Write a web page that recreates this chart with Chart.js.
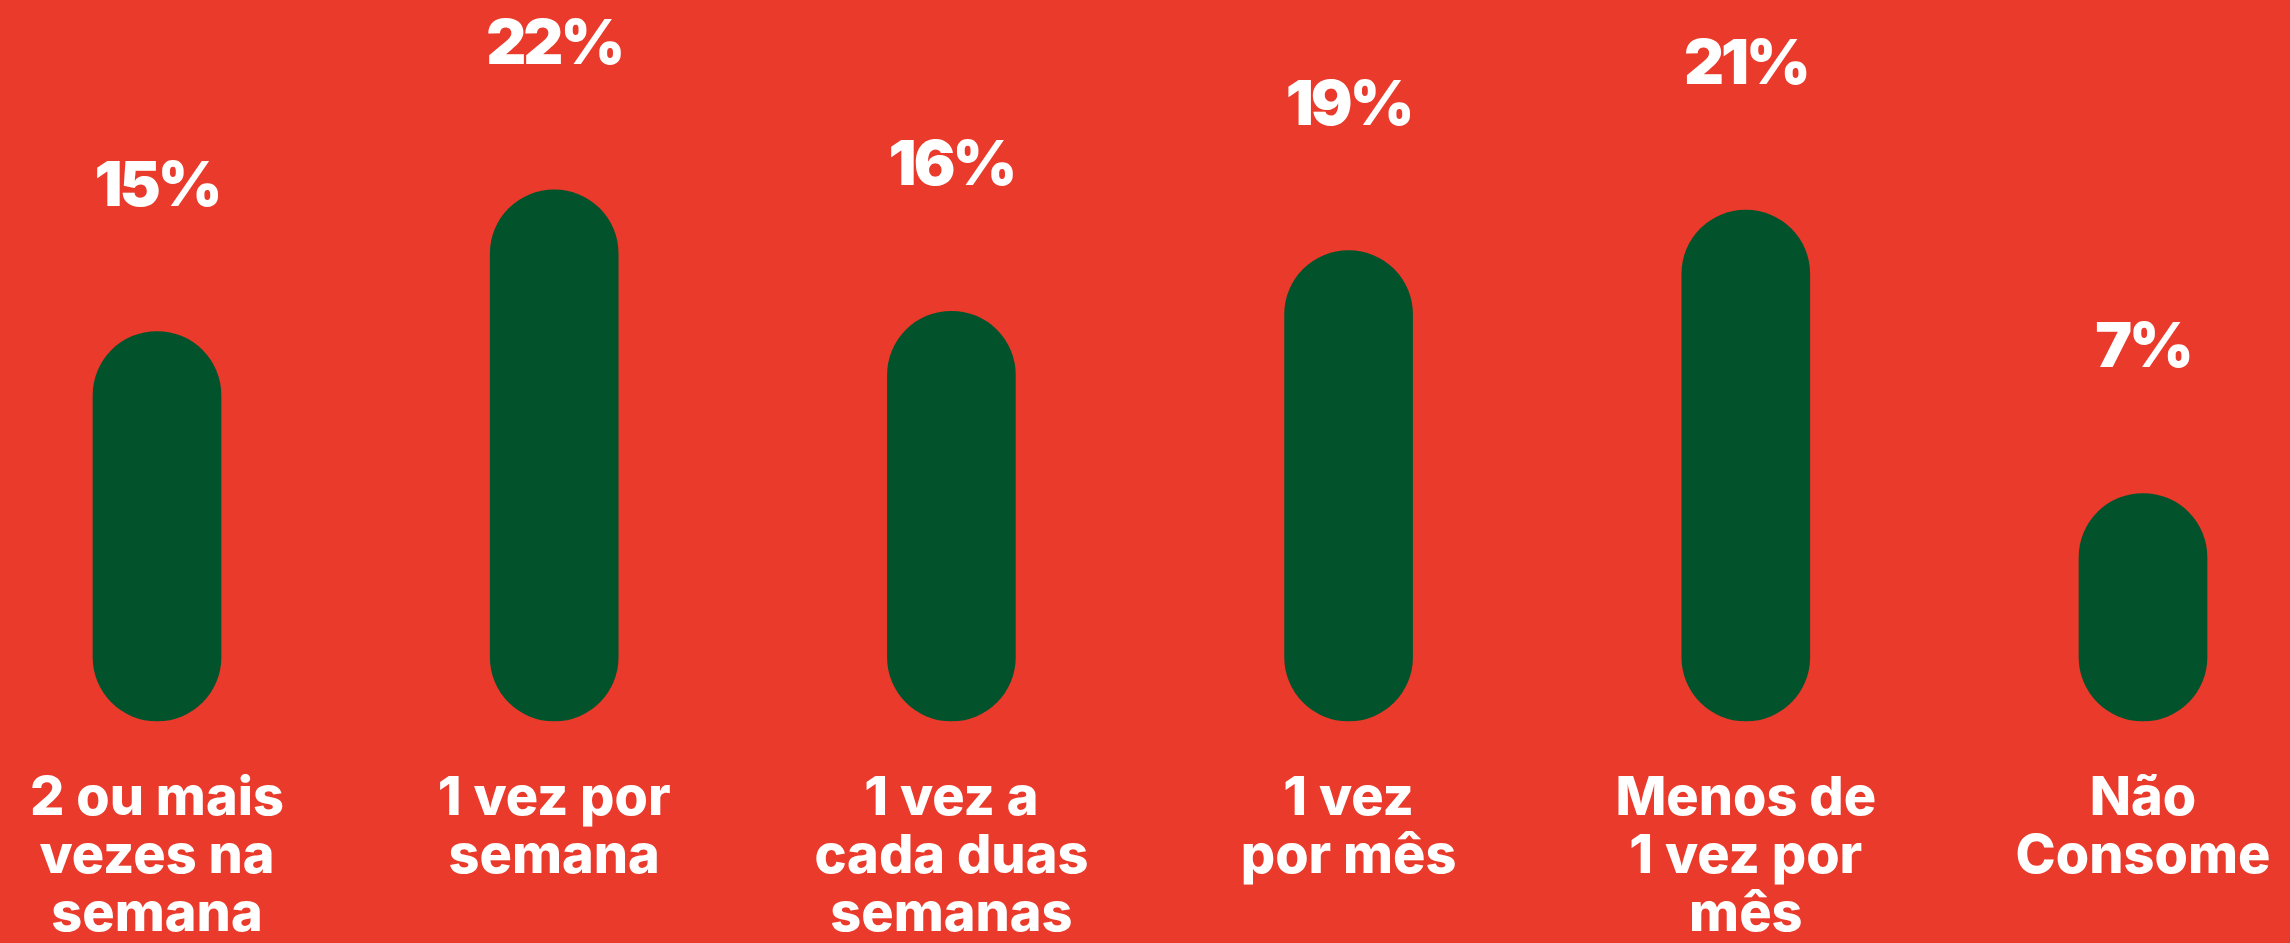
<!DOCTYPE html>
<html>
<head>
<meta charset="utf-8">
<script src="https://cdn.jsdelivr.net/npm/chart.js@4"></script>
<style>
  html, body { margin: 0; padding: 0; background: #E93A2B; }
  canvas { display: block; }
</style>
</head>
<body>
<canvas id="c" width="2290" height="943"></canvas>
<script>
const categories = [
  ['2 ou mais', 'vezes na', 'semana'],
  ['1 vez por', 'semana'],
  ['1 vez a', 'cada duas', 'semanas'],
  ['1 vez', 'por mês'],
  ['Menos de', '1 vez por', 'mês'],
  ['Não', 'Consome']
];
const values = [15, 22, 16, 19, 21, 7];
const valueSuffix = '%';

const BG = '#E93A2B';
const BAR = '#02532C';
const Y_MIN = -4.24;
const Y_MAX = 31.38;

const bgPlugin = {
  id: 'bg',
  beforeDraw(chart) {
    const ctx = chart.ctx;
    ctx.save();
    ctx.fillStyle = BG;
    ctx.fillRect(0, 0, chart.width, chart.height);
    ctx.restore();
  }
};

const valueLabelPlugin = {
  id: 'valueLabels',
  afterDatasetsDraw(chart) {
    const ctx = chart.ctx;
    const meta = chart.getDatasetMeta(0);
    ctx.save();
    ctx.fillStyle = '#FFFFFF';
    ctx.font = '900 62px Inter';
    try { ctx.letterSpacing = '-3px'; } catch (e) {}
    ctx.textAlign = 'center';
    ctx.textBaseline = 'alphabetic';
    meta.data.forEach((el, i) => {
      ctx.fillText(values[i] + valueSuffix, el.x, el.y - 126);
    });
    ctx.restore();
  }
};

new Chart(document.getElementById('c'), {
  type: 'bar',
  data: {
    labels: categories,
    datasets: [{
      data: values,
      base: Y_MIN,
      backgroundColor: BAR,
      borderWidth: 0,
      borderRadius: 64,
      borderSkipped: false,
      barThickness: 128,
      clip: false
    }]
  },
  options: {
    responsive: false,
    animation: false,
    layout: { padding: { left: 157, right: 147, top: 0, bottom: 0 } },
    plugins: { legend: { display: false }, tooltip: { enabled: false } },
    scales: {
      x: {
        offset: false,
        grid: { display: false, drawTicks: true, tickLength: 46 },
        border: { display: false },
        ticks: {
          color: '#FFFFFF',
          font: { family: 'Inter', weight: 800, size: 54, lineHeight: 58 / 54 },
          padding: 3,
          maxRotation: 0,
          autoSkip: false
        },
        afterFit(scale) { scale.height = 222; }
      },
      y: {
        display: false,
        min: Y_MIN,
        max: Y_MAX,
        beginAtZero: false
      }
    }
  },
  plugins: [bgPlugin, valueLabelPlugin]
});
</script>
</body>
</html>
